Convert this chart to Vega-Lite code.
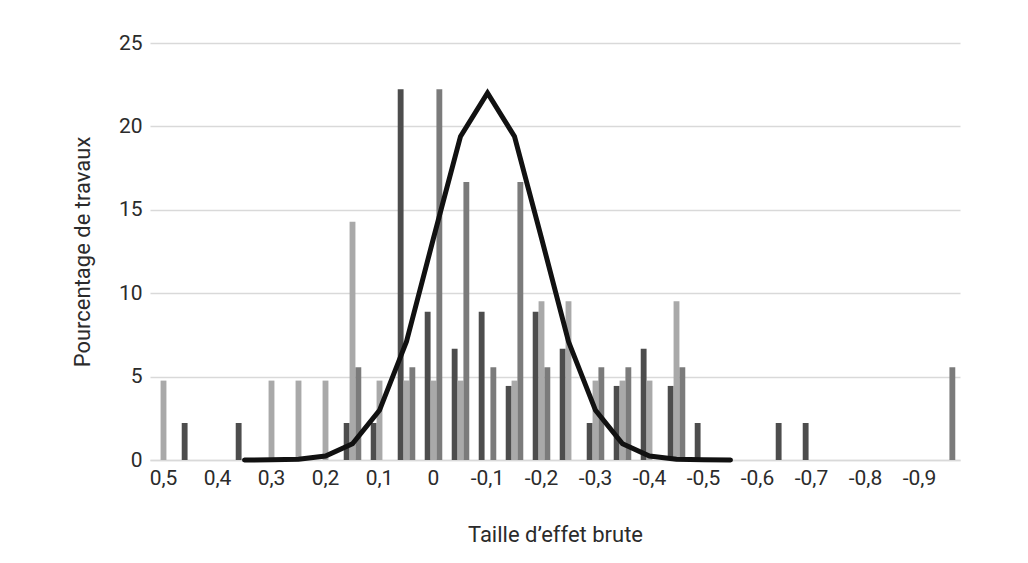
{
  "$schema": "https://vega.github.io/schema/vega-lite/v6.json",
  "width": 810,
  "height": 417,
  "autosize": {"type": "none"},
  "padding": {"left": 150, "top": 43, "right": 68, "bottom": 103},
  "background": "white",
  "config": {
    "font": "Roboto",
    "view": {"stroke": null},
    "axis": {
      "labelFont": "Roboto",
      "titleFont": "Roboto",
      "labelFontSize": 21,
      "titleFontSize": 22,
      "labelColor": "#2b2b2b",
      "titleColor": "#2b2b2b",
      "titleFontWeight": "normal",
      "ticks": false
    }
  },
  "datasets": {
    "barres": [
      {"cat": "0,5", "serie": "B", "pct": 4.76},
      {"cat": "0,45", "serie": "A", "pct": 2.22},
      {"cat": "0,35", "serie": "A", "pct": 2.22},
      {"cat": "0,3", "serie": "B", "pct": 4.76},
      {"cat": "0,25", "serie": "B", "pct": 4.76},
      {"cat": "0,2", "serie": "B", "pct": 4.76},
      {"cat": "0,15", "serie": "A", "pct": 2.22},
      {"cat": "0,15", "serie": "B", "pct": 14.29},
      {"cat": "0,15", "serie": "C", "pct": 5.56},
      {"cat": "0,1", "serie": "A", "pct": 2.22},
      {"cat": "0,1", "serie": "B", "pct": 4.76},
      {"cat": "0,05", "serie": "A", "pct": 22.22},
      {"cat": "0,05", "serie": "B", "pct": 4.76},
      {"cat": "0,05", "serie": "C", "pct": 5.56},
      {"cat": "0", "serie": "A", "pct": 8.89},
      {"cat": "0", "serie": "B", "pct": 4.76},
      {"cat": "0", "serie": "C", "pct": 22.22},
      {"cat": "-0,05", "serie": "A", "pct": 6.67},
      {"cat": "-0,05", "serie": "B", "pct": 4.76},
      {"cat": "-0,05", "serie": "C", "pct": 16.67},
      {"cat": "-0,1", "serie": "A", "pct": 8.89},
      {"cat": "-0,1", "serie": "C", "pct": 5.56},
      {"cat": "-0,15", "serie": "A", "pct": 4.44},
      {"cat": "-0,15", "serie": "B", "pct": 4.76},
      {"cat": "-0,15", "serie": "C", "pct": 16.67},
      {"cat": "-0,2", "serie": "A", "pct": 8.89},
      {"cat": "-0,2", "serie": "B", "pct": 9.52},
      {"cat": "-0,2", "serie": "C", "pct": 5.56},
      {"cat": "-0,25", "serie": "A", "pct": 6.67},
      {"cat": "-0,25", "serie": "B", "pct": 9.52},
      {"cat": "-0,3", "serie": "A", "pct": 2.22},
      {"cat": "-0,3", "serie": "B", "pct": 4.76},
      {"cat": "-0,3", "serie": "C", "pct": 5.56},
      {"cat": "-0,35", "serie": "A", "pct": 4.44},
      {"cat": "-0,35", "serie": "B", "pct": 4.76},
      {"cat": "-0,35", "serie": "C", "pct": 5.56},
      {"cat": "-0,4", "serie": "A", "pct": 6.67},
      {"cat": "-0,4", "serie": "B", "pct": 4.76},
      {"cat": "-0,45", "serie": "A", "pct": 4.44},
      {"cat": "-0,45", "serie": "B", "pct": 9.52},
      {"cat": "-0,45", "serie": "C", "pct": 5.56},
      {"cat": "-0,5", "serie": "A", "pct": 2.22},
      {"cat": "-0,65", "serie": "A", "pct": 2.22},
      {"cat": "-0,7", "serie": "A", "pct": 2.22},
      {"cat": "-0,95", "serie": "C", "pct": 5.56}
    ],
    "courbe": [
      {"cat": "0,35", "val": 0.0},
      {"cat": "0,3", "val": 0.01},
      {"cat": "0,25", "val": 0.05},
      {"cat": "0,2", "val": 0.24},
      {"cat": "0,15", "val": 0.97},
      {"cat": "0,1", "val": 2.98},
      {"cat": "0,05", "val": 7.1},
      {"cat": "0", "val": 13.3},
      {"cat": "-0,05", "val": 19.4},
      {"cat": "-0,1", "val": 22.0},
      {"cat": "-0,15", "val": 19.4},
      {"cat": "-0,2", "val": 13.3},
      {"cat": "-0,25", "val": 7.1},
      {"cat": "-0,3", "val": 2.98},
      {"cat": "-0,35", "val": 0.97},
      {"cat": "-0,4", "val": 0.24},
      {"cat": "-0,45", "val": 0.05},
      {"cat": "-0,5", "val": 0.01},
      {"cat": "-0,55", "val": 0.0}
    ]
  },
  "layer": [
    {
      "data": {"name": "barres"},
      "mark": {"type": "bar"},
      "encoding": {
        "x": {
          "field": "cat",
          "type": "nominal",
          "sort": null,
          "scale": {
            "domain": ["0,5","0,45","0,4","0,35","0,3","0,25","0,2","0,15","0,1","0,05","0","-0,05","-0,1","-0,15","-0,2","-0,25","-0,3","-0,35","-0,4","-0,45","-0,5","-0,55","-0,6","-0,65","-0,7","-0,75","-0,8","-0,85","-0,9","-0,95"],
            "paddingInner": 0.35,
            "paddingOuter": 0.175
          },
          "axis": {
            "title": "Taille d’effet brute",
            "values": ["0,5","0,4","0,3","0,2","0,1","0","-0,1","-0,2","-0,3","-0,4","-0,5","-0,6","-0,7","-0,8","-0,9"],
            "labelAngle": 0,
            "labelPadding": 7,
            "titlePadding": 36,
            "grid": false,
            "domain": true,
            "domainColor": "#d9d9d9",
            "domainWidth": 1.5
          }
        },
        "xOffset": {
          "field": "serie",
          "type": "nominal",
          "sort": ["A", "B", "C"],
          "scale": {"domain": ["A", "B", "C"], "paddingInner": 0, "paddingOuter": 0}
        },
        "y": {
          "field": "pct",
          "type": "quantitative",
          "scale": {"domain": [0, 25], "nice": false},
          "axis": {
            "title": "Pourcentage de travaux",
            "values": [0, 5, 10, 15, 20, 25],
            "domain": false,
            "grid": true,
            "gridColor": "#d9d9d9",
            "gridWidth": 1.5,
            "labelPadding": 8,
            "titlePadding": 24
          }
        },
        "color": {
          "field": "serie",
          "type": "nominal",
          "scale": {"domain": ["A", "B", "C"], "range": ["#4d4d4d", "#a9a9a9", "#7b7b7b"]},
          "legend": null
        }
      }
    },
    {
      "data": {"name": "courbe"},
      "mark": {"type": "line", "color": "#111111", "strokeWidth": 5, "strokeCap": "round", "strokeJoin": "miter"},
      "encoding": {
        "x": {"field": "cat", "type": "nominal", "sort": null},
        "y": {"field": "val", "type": "quantitative"}
      }
    }
  ]
}
